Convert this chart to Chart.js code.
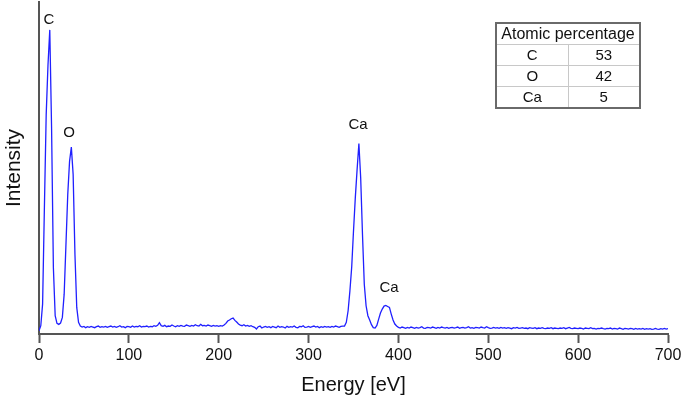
<!DOCTYPE html>
<html>
<head>
<meta charset="utf-8">
<script src="https://cdn.jsdelivr.net/npm/chart.js@4.4.1/dist/chart.umd.min.js"></script>
<style>
  html, body { margin: 0; padding: 0; background: #fff; }
  #wrap { position: relative; width: 685px; height: 402px; }
  canvas { position: absolute; left: 0; top: 0; }
  #tbl {
    position: absolute; left: 495px; top: 22px; width: 146px;
    border-collapse: collapse; border: 2px solid #6a6a6a;
    font-family: "Liberation Sans", Arial, sans-serif; font-size: 15px; color: #111;
  }
  #tbl td { border: 1px solid #c8c8c8; height: 20px; padding: 0; text-align: center; line-height: 20px; }
  #tbl td.hdr { font-size: 16px; }
</style>
</head>
<body>
<div id="wrap">
  <canvas id="c" width="685" height="402"></canvas>
  <table id="tbl"></table>
</div>
<script>
// ---- data ----
const energyStart = 0;      // eV
const energyStep = 2;       // eV between samples
const intensity = [
  1.0, 2.5, 9, 38, 66, 81, 91.6, 62, 20, 5.5,
  3.2, 2.9, 3.3, 5, 12, 27, 42, 52, 56.3, 48,
  24, 8, 3.5, 2.4, 2.1, 2.3, 1.9, 2.2, 2.0, 2.3,
  2.1, 1.9, 2.2, 2.4, 2.0, 2.2, 2.1, 2.3, 2.0, 2.2,
  2.4, 2.1, 2.3, 2.0, 2.2, 2.5, 2.1, 2.2, 1.9, 2.3,
  2.2, 2.0, 2.4, 2.1, 2.3, 2.2, 2.5, 2.1, 2.3, 2.2,
  2.4, 2.1, 2.3, 2.2, 2.5, 2.3, 2.6, 3.4, 2.5, 2.3,
  2.6, 2.2, 2.4, 2.3, 2.7, 2.4, 2.2, 2.5, 2.3, 2.6,
  2.4, 2.3, 2.7, 2.5, 2.3, 2.6, 2.4, 2.8, 2.5, 2.4,
  2.9, 2.5, 2.6, 2.4, 2.7, 2.5, 2.3, 2.6, 2.4, 2.5,
  2.3, 2.5, 2.4, 2.7, 3.2, 3.9, 4.2, 4.6, 4.8, 4.1,
  3.6, 3.0, 2.7, 2.5, 2.8, 2.4, 2.6, 2.3, 2.5, 2.2,
  2.0, 1.5, 2.2, 2.4, 1.8, 2.1, 2.3, 2.0, 2.2, 1.9,
  2.3, 2.1, 1.9, 2.4, 2.0, 2.2, 2.1, 1.8, 2.3, 2.0,
  2.2, 2.1, 2.4, 2.0, 1.9, 2.3, 2.2, 2.5, 2.0, 2.1,
  2.3, 2.0, 2.2, 2.4, 2.1, 2.3, 1.9, 2.2, 2.0, 2.3,
  2.1, 2.2, 2.0, 2.3, 2.1, 2.4, 2.2, 2.0, 2.3, 2.4,
  2.4, 3.5, 7, 13, 20.2, 31, 41, 49.5, 57.4, 47,
  30, 15, 8.5, 5.5, 4.2, 2.8, 1.9, 1.8, 2.6, 4.5,
  6.3, 7.5, 8.4, 8.6, 8.3, 8.0, 6.0, 4.2, 3.0, 2.4,
  2.0, 1.8, 2.1, 1.9, 1.7, 2.0, 1.8, 2.1, 1.9, 1.7,
  2.0, 1.8, 1.9, 2.2, 1.8, 1.7, 2.0, 1.9, 1.8, 2.1,
  1.9, 1.7, 2.0, 1.8, 2.1, 1.9, 1.8, 2.0, 1.7, 1.9,
  2.0, 1.8, 1.9, 2.1, 1.7, 1.9, 2.0, 1.8, 1.9, 2.2,
  1.8, 1.9, 1.7, 2.0, 1.9, 1.8, 2.1, 1.9, 1.8, 2.2,
  1.9, 1.7, 1.8, 2.0, 1.8, 1.9, 1.7, 2.0, 1.8, 1.9,
  1.7, 1.9, 1.8, 1.6, 1.9, 1.8, 2.0, 1.7, 1.8, 1.9,
  1.7, 1.8, 1.6, 1.9, 1.8, 1.7, 1.9, 1.6, 1.8, 1.7,
  1.9, 1.7, 1.6, 1.8, 1.7, 1.9, 1.6, 1.8, 1.7, 1.6,
  1.8, 1.7, 1.9, 1.6, 1.8, 2.0, 1.7, 1.6, 1.8, 1.7,
  1.6, 1.8, 1.7, 1.5, 1.8, 1.7, 1.6, 1.9, 1.6, 1.7,
  1.5, 1.7, 1.6, 1.8, 1.6, 1.5, 1.7, 1.6, 1.8, 1.5,
  1.7, 1.6, 1.5, 1.8, 1.6, 1.4, 1.7, 1.6, 1.5, 1.7,
  1.6, 1.4, 1.7, 1.5, 1.6, 1.5, 1.7, 1.4, 1.6, 1.5,
  1.6, 1.4, 1.5, 1.7, 1.5, 1.4, 1.6, 1.5, 1.7, 1.5,
  1.6
];
const xTickValues = [0, 100, 200, 300, 400, 500, 600, 700];

// peak annotations (label, energy, intensity of the label centre)
const peakLabels = ['C', 'O', 'Ca', 'Ca'];
const peakLabelEnergy = [11.1, 33.4, 355, 389.5];
const peakLabelIntensity = [94.6, 60.5, 63.0, 13.9];

// inset table
const tableTitle = 'Atomic percentage';
const elements = ['C', 'O', 'Ca'];
const atomicPercent = [53, 42, 5];

// ---- build table ----
const tbl = document.getElementById('tbl');
let html = '<tr><td class="hdr" colspan="2">' + tableTitle + '</td></tr>';
elements.forEach((el, i) => {
  html += '<tr><td style="width:50%">' + el + '</td><td>' + atomicPercent[i] + '</td></tr>';
});
tbl.innerHTML = html;

// ---- chart ----
const points = intensity.map((v, i) => ({ x: energyStart + i * energyStep, y: v }));
const FONT = '"Liberation Sans", Arial, sans-serif';

const peakLabelPlugin = {
  id: 'peakLabels',
  afterDatasetsDraw(chart) {
    const { ctx, scales } = chart;
    ctx.save();
    ctx.font = '15px ' + FONT;
    ctx.fillStyle = '#111';
    ctx.textAlign = 'center';
    ctx.textBaseline = 'middle';
    peakLabels.forEach((t, i) => {
      ctx.fillText(t, scales.x.getPixelForValue(peakLabelEnergy[i]), scales.y.getPixelForValue(peakLabelIntensity[i]));
    });
    ctx.restore();
  }
};

new Chart(document.getElementById('c'), {
  type: 'line',
  data: {
    datasets: [{
      data: points,
      borderColor: '#2020ff',
      borderWidth: 1.3,
      pointRadius: 0,
      tension: 0,
      fill: false
    }]
  },
  options: {
    responsive: false,
    animation: false,
    devicePixelRatio: 1,
    layout: { padding: { top: 2, right: 17, left: 0, bottom: 0 } },
    plugins: { legend: { display: false }, tooltip: { enabled: false } },
    scales: {
      x: {
        type: 'linear',
        min: 0, max: 700,
        afterBuildTicks: (s) => { s.ticks = xTickValues.map(v => ({ value: v })); },
        afterFit: (s) => { s.height = 68; },
        ticks: { color: '#111', font: { family: FONT, size: 16 }, padding: 3, maxRotation: 0 },
        grid: { display: true, drawOnChartArea: false, drawTicks: true, tickLength: 9, tickWidth: 2, color: '#555' },
        border: { display: true, color: '#555', width: 2 },
        title: { display: true, text: 'Energy [eV]', color: '#111', font: { family: FONT, size: 20 }, padding: { top: 5, bottom: 5 } }
      },
      y: {
        min: 0, max: 100,
        afterFit: (s) => { s.width = 39; },
        ticks: { display: false },
        grid: { display: false },
        border: { display: true, color: '#555', width: 2 },
        title: { display: true, text: 'Intensity', color: '#111', font: { family: FONT, size: 21 }, padding: { top: 2, bottom: 2 } }
      }
    }
  },
  plugins: [peakLabelPlugin]
});
</script>
</body>
</html>
